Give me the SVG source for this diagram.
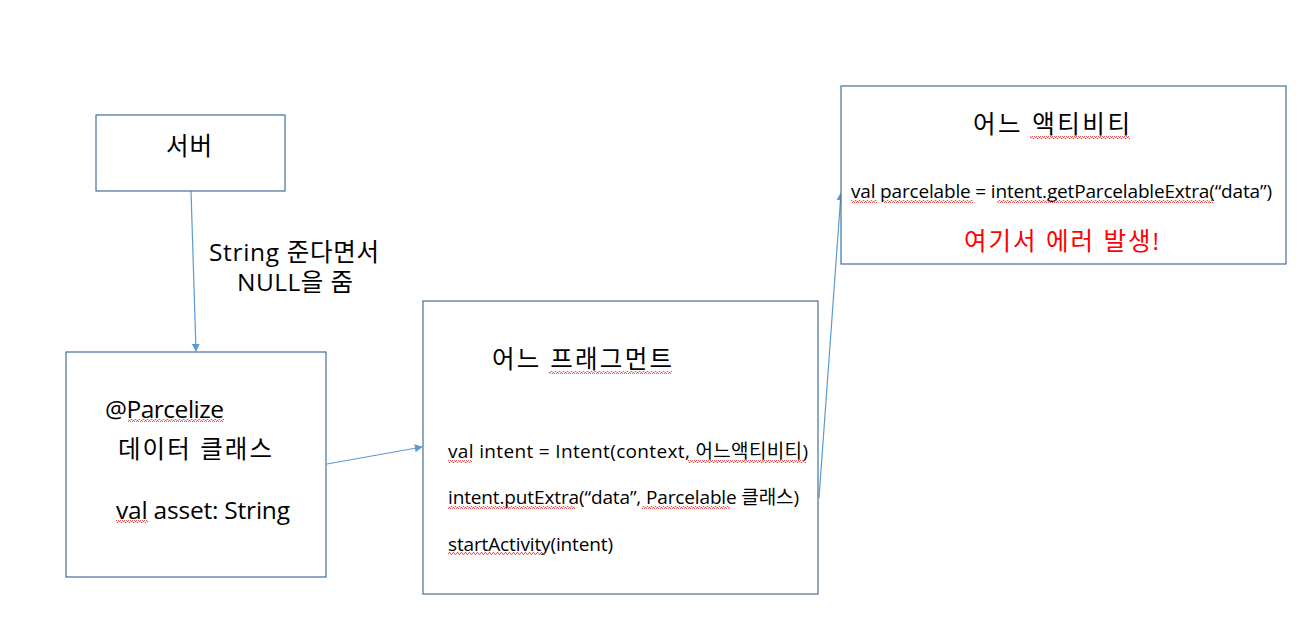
<svg xmlns="http://www.w3.org/2000/svg" width="1305" height="638" viewBox="0 0 1305 638">
<style>
.box{fill:#fff;stroke:#41719c;stroke-width:1.2}
.conn{stroke:#5b9bd5;stroke-width:1.2;fill:none}
.t{font-family:"Open Sans","Noto Sans CJK KR",sans-serif;fill:#000}
.big{font-size:24.5px}
.sm{font-size:19px}
.red{fill:#ff0000}
.sq{fill:url(#wave)}
</style>
<defs>
<marker id="ah" viewBox="0 0 10 10" refX="9" refY="5" markerWidth="8" markerHeight="8" orient="auto" markerUnits="userSpaceOnUse">
<path d="M0,0 L10,5 L0,10 z" fill="#5b9bd5"/>
</marker>
<pattern id="wave" width="4" height="3" patternUnits="userSpaceOnUse">
<path d="M0,2.5 L1,0.5 L2,0.5 L3,2.5 L4,2.5" stroke="#e03030" stroke-width="0.8" fill="none"/>
</pattern>
</defs>
<g id="connectors">
<line class="conn" x1="191" y1="191" x2="196" y2="351" marker-end="url(#ah)"/>
<line class="conn" x1="327" y1="464" x2="422" y2="447" marker-end="url(#ah)"/>
<line class="conn" x1="819" y1="498" x2="841" y2="193" marker-end="url(#ah)"/>
<text class="t big" x="209" y="261" textLength="170">String 준다면서</text>
<text class="t big" x="237" y="291" textLength="116">NULL을 줌</text>
</g>
<g id="server">
<rect class="box" x="96" y="115" width="189" height="76"/>
<text class="t big" x="166" y="155" textLength="46">서버</text>
</g>
<g id="data-class">
<rect class="box" x="66" y="352" width="260" height="225"/>
<text class="t big" x="105" y="418" textLength="119">@Parcelize</text>
<text class="t big" x="118" y="458" textLength="154">데이터 클래스</text>
<text class="t big" x="116" y="519" textLength="174">val asset: String</text>
<rect class="sq" x="128" y="419" width="96" height="3"/>
<rect class="sq" x="116" y="520" width="32" height="3"/>
</g>
<g id="fragment">
<rect class="box" x="423" y="301" width="395" height="293"/>
<text class="t big" x="492" y="368" textLength="180">어느 프래그먼트</text>
<text class="t sm" x="448" y="458" textLength="360">val intent = Intent(context, 어느액티비티)</text>
<text class="t sm" x="448" y="504" textLength="351">intent.putExtra(“data”, Parcelable 클래스)</text>
<text class="t sm" x="448" y="551" textLength="165">startActivity(intent)</text>
<rect class="sq" x="549" y="371" width="123" height="3"/>
<rect class="sq" x="448" y="460" width="24" height="3"/>
<rect class="sq" x="688" y="460" width="118" height="3"/>
<rect class="sq" x="448" y="506" width="127" height="3"/>
<rect class="sq" x="642" y="506" width="88" height="3"/>
<rect class="sq" x="448" y="552" width="97" height="3"/>
</g>
<g id="activity">
<rect class="box" x="841" y="86" width="445" height="178"/>
<text class="t big" x="973" y="133" textLength="157">어느 액티비티</text>
<text class="t sm" x="851" y="198" textLength="421">val parcelable = intent.getParcelableExtra(“data”)</text>
<text class="t big red" x="964" y="250" textLength="195">여기서 에러 발생!</text>
<rect class="sq" x="1030" y="136" width="100" height="3"/>
<rect class="sq" x="851" y="200" width="26" height="3"/>
<rect class="sq" x="883" y="200" width="90" height="3"/>
<rect class="sq" x="997" y="200" width="216" height="3"/>
</g>
</svg>
